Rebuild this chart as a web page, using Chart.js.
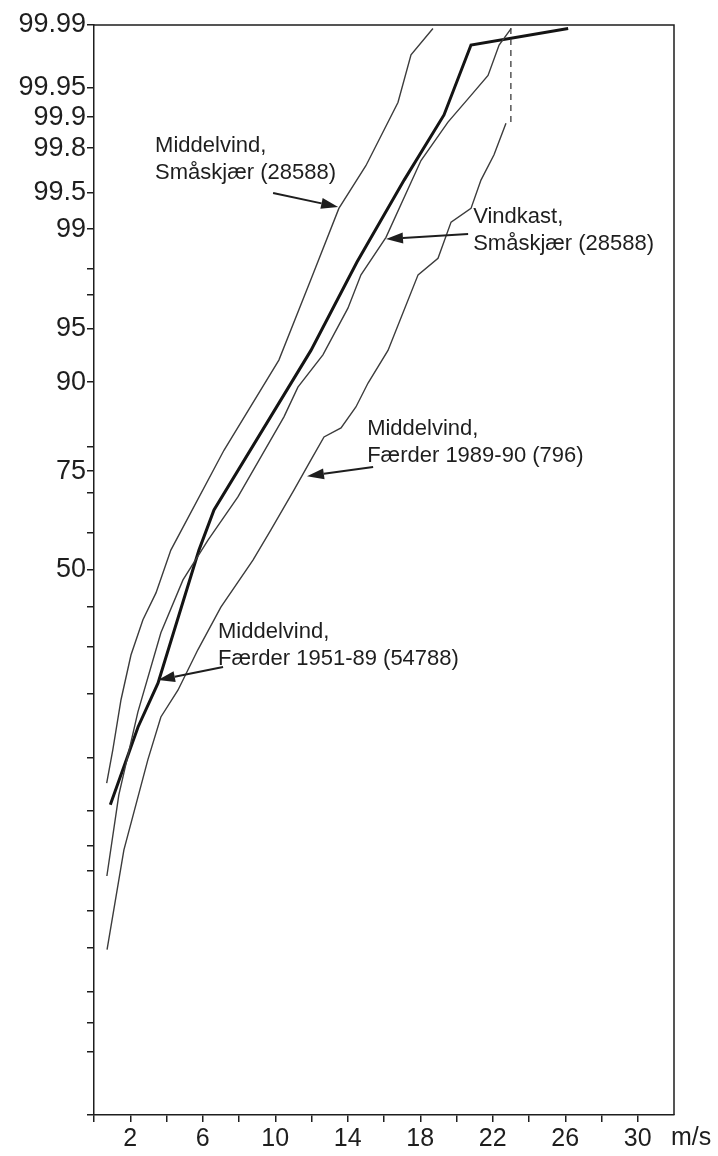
<!DOCTYPE html>
<html>
<head>
<meta charset="utf-8">
<script src="https://cdn.jsdelivr.net/npm/chart.js@4.4.0/dist/chart.umd.min.js"></script>
<style>
  html, body { margin: 0; padding: 0; background: #fff; }
  #c { display: block; }
</style>
</head>
<body>
<canvas id="c" width="718" height="1156"></canvas>
<script>
// Cumulative frequency (%) of wind speed (m/s), plotted on normal probability paper.

// Middelvind, Småskjær (28588)
const smaskjaerMeanSpeed = [0.7, 1.04, 1.49, 2.04, 2.70, 3.42, 4.24, 7.17, 10.2, 11.95, 13.51, 15.0, 16.77, 17.49, 18.70];
const smaskjaerMeanPct   = [7.3, 11.0, 18.8, 28.1, 36.7, 43.8, 55.4, 79.3, 92.4, 97.6, 99.32, 99.71, 99.929, 99.978, 99.989];

// Vindkast, Småskjær (28588)
const smaskjaerGustSpeed = [0.71, 1.37, 2.42, 3.69, 4.91, 6.29, 7.94, 9.21, 10.48, 11.25, 12.63, 14.01, 14.73, 16.11, 18.04, 19.53, 20.80, 21.74, 22.35, 23.01];
const smaskjaerGustPct   = [1.84, 6.24, 16.6, 33.4, 47.3, 58.1, 69.1, 78.0, 85.2, 89.4, 92.9, 96.3, 97.8, 98.84, 99.74, 99.888, 99.940, 99.963, 99.983, 99.989];

// Middelvind, Færder 1951-89 (54788)
const faerderLongSpeed = [0.9, 2.43, 3.53, 5.79, 6.62, 11.97, 14.51, 17.11, 19.31, 20.80, 26.16];
const faerderLongPct   = [5.45, 14.2, 22.0, 55.4, 65.9, 93.3, 98.22, 99.61, 99.905, 99.983, 99.989];

// Middelvind, Færder 1989-90 (796)
const faerderShortSpeed = [0.72, 1.65, 2.97, 3.69, 4.63, 5.73, 7.00, 8.77, 9.76, 11.03, 11.97, 12.69, 13.63, 14.45, 15.12, 16.22, 17.88, 18.98, 19.70, 20.80, 21.35, 22.07, 22.73];
const faerderShortPct   = [0.48, 2.81, 9.75, 15.8, 20.6, 29.3, 40.0, 52.7, 60.8, 70.7, 77.4, 81.8, 83.4, 86.7, 89.9, 93.3, 97.8, 98.33, 99.12, 99.32, 99.61, 99.77, 99.885];

// open-ended tail of the short Færder record (highest observed value)
const faerderShortTailSpeed = [23.0, 23.0];
const faerderShortTailPct   = [99.888, 99.99];

// axes
const xTickValues = [0, 2, 4, 6, 8, 10, 12, 14, 16, 18, 20, 22, 24, 26, 28, 30];
const xTickText   = ['', '2', '', '6', '', '10', '', '14', '', '18', '', '22', '', '26', '', '30'];
const yTickPct    = [0.01, 0.05, 0.1, 0.2, 0.5, 1, 2, 3, 5, 10, 20, 30, 40, 50, 60, 70, 75, 80, 90, 95, 97, 98, 99, 99.5, 99.8, 99.9, 99.95, 99.99];
const yTickText   = ['', '', '', '', '', '', '', '', '', '', '', '', '', '50', '', '', '75', '', '90', '95', '', '', '99', '99.5', '99.8', '99.9', '99.95', '99.99'];

// labels with arrows: text anchor, arrow tail and arrow tip in (m/s, %)
const notes = [
  { lines: ['Middelvind,', 'Småskjær (28588)'],       text: [3.37, 99.781],  tail: [9.88, 99.496],  tip: [13.47, 99.338] },
  { lines: ['Vindkast,', 'Småskjær (28588)'],         text: [20.92, 99.098], tail: [20.64, 98.907], tip: [16.11, 98.806] },
  { lines: ['Middelvind,', 'Færder 1989-90 (796)'],   text: [15.07, 82.24],  tail: [15.40, 75.9],   tip: [11.75, 73.9] },
  { lines: ['Middelvind,', 'Færder 1951-89 (54788)'], text: [6.84, 32.25],   tail: [7.12, 25.4],    tip: [3.53, 22.63] }
];

const FONT = '"Liberation Sans", Arial, Helvetica, sans-serif';
const INK = '#1e1e1e';

// inverse of the standard normal distribution (Acklam)
function probit(p) {
  const a = [-3.969683028665376e+01, 2.209460984245205e+02, -2.759285104469687e+02, 1.383577518672690e+02, -3.066479806614716e+01, 2.506628277459239e+00];
  const b = [-5.447609879822406e+01, 1.615858368580409e+02, -1.556989798598866e+02, 6.680131188771972e+01, -1.328068155288572e+01];
  const c = [-7.784894002430293e-03, -3.223964580411365e-01, -2.400758277161838e+00, -2.549732539343734e+00, 4.374664141464968e+00, 2.938163982698783e+00];
  const d = [7.784695709041462e-03, 3.224671290700398e-01, 2.445134137142996e+00, 3.754408661907416e+00];
  const pl = 0.02425, ph = 1 - pl;
  let q, r;
  if (p < pl) {
    q = Math.sqrt(-2 * Math.log(p));
    return (((((c[0]*q + c[1])*q + c[2])*q + c[3])*q + c[4])*q + c[5]) / ((((d[0]*q + d[1])*q + d[2])*q + d[3])*q + 1);
  }
  if (p <= ph) {
    q = p - 0.5; r = q * q;
    return (((((a[0]*r + a[1])*r + a[2])*r + a[3])*r + a[4])*r + a[5])*q / (((((b[0]*r + b[1])*r + b[2])*r + b[3])*r + b[4])*r + 1);
  }
  q = Math.sqrt(-2 * Math.log(1 - p));
  return -(((((c[0]*q + c[1])*q + c[2])*q + c[3])*q + c[4])*q + c[5]) / ((((d[0]*q + d[1])*q + d[2])*q + d[3])*q + 1);
}
const zOf = pct => probit(pct / 100);
const points = (speeds, pcts) => speeds.map((s, i) => ({ x: s, y: zOf(pcts[i]) }));

const Y_MIN = zOf(yTickPct[0]);
const Y_MAX = zOf(yTickPct[yTickPct.length - 1]);

const thin = { showLine: true, pointRadius: 0, borderColor: '#3c3c3c', borderWidth: 1.4, tension: 0, fill: false };

const frameAndNotes = {
  id: 'frameAndNotes',
  afterDatasetsDraw(chart) {
    const { ctx, chartArea: a, scales: { x, y } } = chart;
    ctx.save();
    // closing frame on top and right
    ctx.strokeStyle = INK;
    ctx.lineWidth = 1.5;
    ctx.beginPath();
    ctx.moveTo(a.left, a.top);
    ctx.lineTo(a.right, a.top);
    ctx.lineTo(a.right, a.bottom);
    ctx.stroke();

    // unit of the x axis
    ctx.fillStyle = INK;
    ctx.font = '25px ' + FONT;
    ctx.textAlign = 'left';
    ctx.textBaseline = 'top';
    ctx.fillText('m/s', a.right - 3, a.bottom + 11);

    // labels and arrows
    ctx.font = '22px ' + FONT;
    ctx.textBaseline = 'alphabetic';
    notes.forEach(n => {
      const tx = x.getPixelForValue(n.text[0]);
      const ty = y.getPixelForValue(zOf(n.text[1]));
      n.lines.forEach((line, i) => ctx.fillText(line, tx, ty + i * 27));

      const x0 = x.getPixelForValue(n.tail[0]), y0 = y.getPixelForValue(zOf(n.tail[1]));
      const x1 = x.getPixelForValue(n.tip[0]),  y1 = y.getPixelForValue(zOf(n.tip[1]));
      const ang = Math.atan2(y1 - y0, x1 - x0);
      const len = 17, half = 5.5;
      const bx = x1 - len * Math.cos(ang), by = y1 - len * Math.sin(ang);
      ctx.strokeStyle = INK;
      ctx.lineWidth = 2;
      ctx.beginPath();
      ctx.moveTo(x0, y0);
      ctx.lineTo(bx, by);
      ctx.stroke();
      ctx.beginPath();
      ctx.moveTo(x1, y1);
      ctx.lineTo(bx + half * Math.sin(ang), by - half * Math.cos(ang));
      ctx.lineTo(bx - half * Math.sin(ang), by + half * Math.cos(ang));
      ctx.closePath();
      ctx.fill();
    });
    ctx.restore();
  }
};

new Chart(document.getElementById('c'), {
  type: 'scatter',
  data: {
    datasets: [
      { ...thin, label: 'Middelvind, Småskjær (28588)', data: points(smaskjaerMeanSpeed, smaskjaerMeanPct) },
      { ...thin, label: 'Vindkast, Småskjær (28588)', data: points(smaskjaerGustSpeed, smaskjaerGustPct) },
      { ...thin, label: 'Middelvind, Færder 1989-90 (796)', data: points(faerderShortSpeed, faerderShortPct) },
      { ...thin, label: 'Færder 1989-90, maks', data: points(faerderShortTailSpeed, faerderShortTailPct), borderDash: [6, 5], borderWidth: 1.3 },
      { ...thin, label: 'Middelvind, Færder 1951-89 (54788)', data: points(faerderLongSpeed, faerderLongPct), borderColor: '#141414', borderWidth: 3 }
    ]
  },
  options: {
    responsive: false,
    animation: false,
    events: [],
    layout: { padding: { top: 25, right: 44, left: 0, bottom: 0 } },
    plugins: { legend: { display: false }, tooltip: { enabled: false } },
    scales: {
      x: {
        type: 'linear',
        min: 0,
        max: 32,
        afterBuildTicks: s => { s.ticks = xTickValues.map(v => ({ value: v })); },
        afterFit: s => { s.height = 41; },
        ticks: {
          autoSkip: false,
          maxRotation: 0,
          padding: 2,
          color: INK,
          font: { size: 25, family: FONT },
          callback: (v, i) => xTickText[i]
        },
        grid: { drawOnChartArea: false, drawTicks: true, tickLength: 7, color: INK, lineWidth: 1.5 },
        border: { display: true, color: INK, width: 1.5 }
      },
      y: {
        type: 'linear',
        min: Y_MIN,
        max: Y_MAX,
        afterBuildTicks: s => { s.ticks = yTickPct.map(p => ({ value: zOf(p) })); },
        afterFit: s => { s.width = 94; },
        ticks: {
          autoSkip: false,
          padding: 1,
          color: INK,
          font: { size: 27, family: FONT },
          callback: (v, i) => yTickText[i]
        },
        grid: { drawOnChartArea: false, drawTicks: true, tickLength: 7, color: INK, lineWidth: 1.5 },
        border: { display: true, color: INK, width: 1.5 }
      }
    }
  },
  plugins: [frameAndNotes]
});
</script>
</body>
</html>
